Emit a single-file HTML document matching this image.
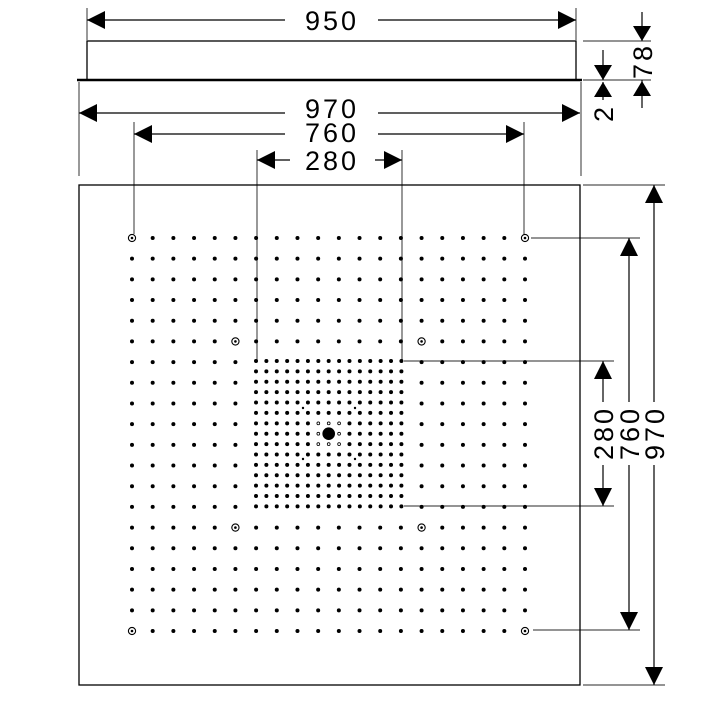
<!DOCTYPE html>
<html><head><meta charset="utf-8"><style>body{margin:0;background:#fff}svg{display:block}</style></head><body>
<svg id="s" width="720" height="720" viewBox="0 0 720 720" xmlns="http://www.w3.org/2000/svg">
<g stroke="#555" stroke-width="1.2" fill="none">
<line x1="87" y1="8" x2="87" y2="40"/><line x1="576" y1="8" x2="576" y2="40"/>
<line x1="79" y1="82" x2="79" y2="176"/><line x1="581" y1="82" x2="581" y2="176"/>
<line x1="134" y1="122" x2="134" y2="234"/><line x1="524" y1="122" x2="524" y2="234"/>
<line x1="257" y1="150" x2="257" y2="361"/><line x1="402" y1="150" x2="402" y2="361"/>
<line x1="583" y1="41" x2="651" y2="41"/><line x1="583" y1="80" x2="651" y2="80"/>
<line x1="583" y1="185" x2="665" y2="185"/><line x1="583" y1="685" x2="665" y2="685"/>
<line x1="531" y1="238" x2="640" y2="238"/><line x1="533" y1="630" x2="640" y2="630"/>
<line x1="404" y1="361" x2="614" y2="361"/><line x1="404" y1="506" x2="614" y2="506"/>
</g>
<g stroke="#000" stroke-width="1.2">
<path d="M87,20H285M378,20H576"/>
<path d="M79,113H285M378,113H580"/>
<path d="M134,134H285M378,134H524"/>
<path d="M257,160H290M375,160H402"/>
<path d="M654,185V402M654,465V685"/>
<path d="M629,238V402M629,465V630"/>
<path d="M603,361V402M603,465V506"/>
<path d="M642,12V41M642,80V108"/>
<path d="M603,50V80M603,82V100"/>
</g>
<g fill="#000">
<path d="M87,20l18,-9v18z"/><path d="M576,20l-18,-9v18z"/>
<path d="M79,113l18,-9v18z"/><path d="M580,113l-18,-9v18z"/>
<path d="M134,134l18,-9v18z"/><path d="M524,134l-18,-9v18z"/>
<path d="M257,160l18,-9v18z"/><path d="M402,160l-18,-9v18z"/>
<path d="M654,185l-9,18h18z"/><path d="M654,685l-9,-18h18z"/>
<path d="M629,238l-9,18h18z"/><path d="M629,630l-9,-18h18z"/>
<path d="M603,361l-9,18h18z"/><path d="M603,506l-9,-18h18z"/>
<path d="M642,41l-9,-15h18z"/><path d="M642,81l-9,15h18z"/>
<path d="M603,80l-9,-15h18z"/><path d="M603,82l-9,15h18z"/>
</g>
<g font-family="Liberation Sans, sans-serif" font-size="27" fill="#000" text-anchor="middle" letter-spacing="3">
<rect x="285" y="5" width="93" height="30" fill="#fff"/>
<text x="332" y="30">950</text>
<rect x="285" y="98" width="93" height="48" fill="#fff"/>
<text x="332" y="118">970</text>
<text x="332" y="142">760</text>
<rect x="290" y="150" width="85" height="22" fill="#fff"/>
<text x="332" y="170">280</text>
<text transform="translate(613,433) rotate(-90)">280</text>
<text transform="translate(639,433) rotate(-90)">760</text>
<text transform="translate(664,433) rotate(-90)">970</text>
<text transform="translate(652,61) rotate(-90)">78</text>
<text transform="translate(613,113) rotate(-90)">2</text>
</g>
<rect x="87" y="41" width="489" height="39" fill="none" stroke="#000" stroke-width="1.3"/>
<line x1="77" y1="80" x2="582" y2="80" stroke="#000" stroke-width="2.5"/>
<rect x="79" y="185" width="501" height="500" fill="none" stroke="#000" stroke-width="1.3"/>
<g id="d" fill="#000"></g>
</svg>
<script>
var g=document.getElementById('d'),h='';
var st=393/19;
var rings={};[[0,0],[19,0],[0,19],[19,19],[5,5],[14,5],[5,14],[14,14]].forEach(function(p){rings[p[0]+','+p[1]]=1});
for(var i=0;i<20;i++)for(var j=0;j<20;j++){
 var x=132+i*st,y=238+j*st;
 if(i>=6&&i<=13&&j>=6&&j<=13)continue;
 if(rings[i+','+j]){h+='<circle cx="'+x+'" cy="'+y+'" r="3.6" fill="none" stroke="#000" stroke-width="1.1"/><circle cx="'+x+'" cy="'+y+'" r="1.3"/>';}
 else h+='<circle cx="'+x+'" cy="'+y+'" r="2"/>';
}
var ds=145.4/14;
for(var i=0;i<15;i++)for(var j=0;j<15;j++){
 var x=256+i*ds,y=361+j*ds;
 if(i>=6&&i<=8&&j>=6&&j<=8){ if(i==7&&j==7)continue; h+='<circle cx="'+x+'" cy="'+y+'" r="1.4" fill="none" stroke="#000" stroke-width="0.8"/>';continue;}
 h+='<circle cx="'+x+'" cy="'+y+'" r="2"/>';
}
h+='<circle cx="'+(256+7*ds)+'" cy="'+(361+7*ds)+'" r="6.3"/>';
[[303,408],[355,408],[303,459],[355,459]].forEach(function(p){h+='<circle cx="'+p[0]+'" cy="'+p[1]+'" r="1.2"/>'});
g.innerHTML=h;
</script>
</body></html>
